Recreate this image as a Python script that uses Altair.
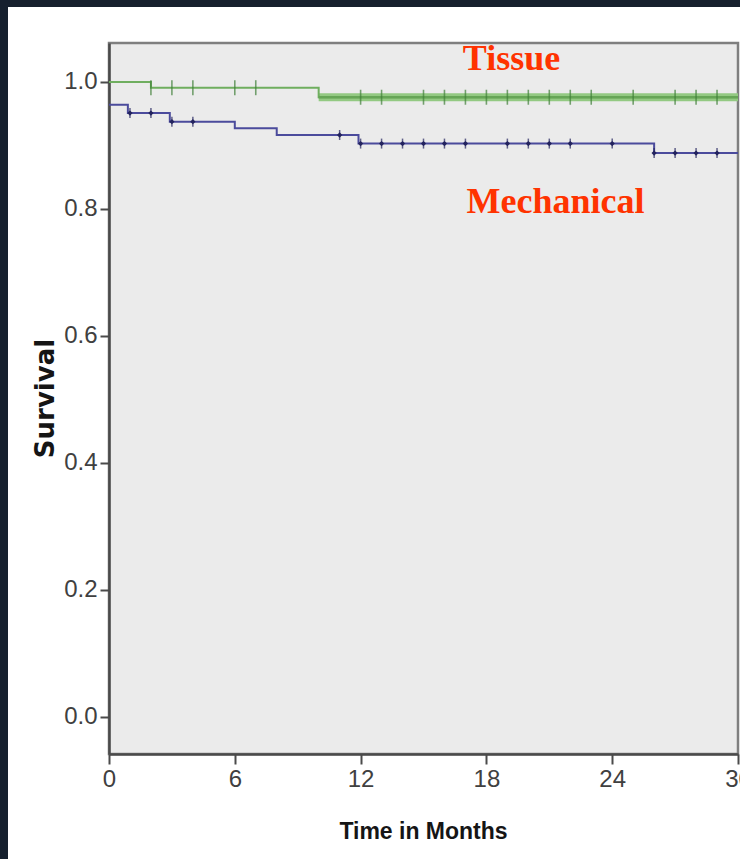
import altair as alt
import pandas as pd

# ---- data ----
tissue_time = [0, 2, 10, 30]
tissue_surv = [1.0, 0.991, 0.976, 0.976]
tissue_censor = [2, 3, 4, 6, 7, 12, 13, 15, 16, 17, 18, 19, 20, 21, 22, 23, 25, 27, 28, 29]

mech_time = [0, 0.9, 2.9, 6, 8, 11.9, 26, 30]
mech_surv = [0.964, 0.951, 0.9375, 0.927, 0.9165, 0.903, 0.888, 0.888]
mech_censor = [1, 2, 3, 4, 11, 12, 13, 14, 15, 16, 17, 19, 20, 21, 22, 24, 26, 27, 28, 29]

labels = ["Tissue", "Mechanical"]
label_time = [19.2, 21.3]
label_surv = [1.019, 0.794]

x_ticks = [0, 6, 12, 18, 24, 30]
y_ticks = [0.0, 0.2, 0.4, 0.6, 0.8, 1.0]


def surv_at(times, survs, t):
    v = survs[0]
    for tt, s in zip(times, survs):
        if tt <= t:
            v = s
    return v


tissue_df = pd.DataFrame({"t": tissue_time, "s": tissue_surv})
tissue_late = tissue_df[tissue_df["t"] >= 10]
mech_df = pd.DataFrame({"t": mech_time, "s": mech_surv})
tissue_c = pd.DataFrame({"t": tissue_censor,
                         "s": [surv_at(tissue_time, tissue_surv, t) for t in tissue_censor]})
mech_c = pd.DataFrame({"t": mech_censor,
                       "s": [surv_at(mech_time, mech_surv, t) for t in mech_censor]})
lab_df = pd.DataFrame({"label": labels, "t": label_time, "s": label_surv})

W, H = 629, 711
SANS = "Liberation Sans, Arial, sans-serif"

xs = alt.Scale(domain=[0, 30], nice=False, zero=False)
ys = alt.Scale(domain=[-0.0583, 1.0614], nice=False, zero=False)

xenc = alt.X("t:Q", scale=xs, axis=alt.Axis(
    values=x_ticks, format="d", title="Time in Months", labelFlush=False,
    tickSize=10, labelPadding=3, labelFont=SANS, labelFontSize=24,
    labelColor="#404040", titleFont=SANS, titleFontSize=23, titleFontWeight="bold",
    titleColor="#151515", titleX=314, titleY=84, titleBaseline="alphabetic",
    titleAlign="center"))
yenc = alt.Y("s:Q", scale=ys, axis=alt.Axis(
    values=y_ticks, format=".1f", title="Survival", tickSize=9, labelPadding=3,
    labelFont=SANS, labelFontSize=24, labelColor="#404040",
    titleFont="DejaVu Sans", titleFontSize=26, titleFontWeight="bold",
    titleColor="#151515", titleAngle=270, titleX=-56, titleY=355,
    titleAlign="center", titleBaseline="alphabetic"))

one = alt.Data(values=[{}])

border_left = alt.Chart(one).mark_rect(color="#16202e").encode(
    x=alt.value(-109), x2=alt.value(-101), y=alt.value(-43), y2=alt.value(H + 105))
border_top = alt.Chart(one).mark_rect(color="#16202e").encode(
    x=alt.value(-109), x2=alt.value(W + 2), y=alt.value(-43), y2=alt.value(-36))

tissue_line = alt.Chart(tissue_df).mark_line(
    interpolate="step-after", color="#6fae5f", strokeWidth=2).encode(x=xenc, y=yenc)
tissue_band = alt.Chart(tissue_late).mark_line(
    interpolate="step-after", color="#93c982", strokeWidth=8).encode(x=xenc, y=yenc)
tissue_core = alt.Chart(tissue_late).mark_line(
    interpolate="step-after", color="#66a556", strokeWidth=2.5).encode(x=xenc, y=yenc)
tissue_ticks = alt.Chart(tissue_c).mark_tick(
    orient="vertical", color="#3f7f38", size=15, thickness=1.6).encode(x=xenc, y=yenc)

mech_line = alt.Chart(mech_df).mark_line(
    interpolate="step-after", color="#4b4b9c", strokeWidth=2).encode(x=xenc, y=yenc)
mech_ticks = alt.Chart(mech_c).mark_tick(
    orient="vertical", color="#23235e", size=10, thickness=1.5).encode(x=xenc, y=yenc)
mech_dots = alt.Chart(mech_c).mark_point(
    shape="diamond", filled=True, color="#23235e", size=28, opacity=1).encode(x=xenc, y=yenc)

text = alt.Chart(lab_df).mark_text(
    font="Liberation Serif", fontSize=36, fontWeight="bold", color="#ff3300",
    align="center", baseline="alphabetic").encode(x=xenc, y=yenc, text="label:N")

chart = alt.layer(
    tissue_band, tissue_line, tissue_core, tissue_ticks,
    mech_line, mech_ticks, mech_dots, text, border_left, border_top
).properties(
    width=W, height=H,
    padding={"left": 109, "top": 43, "right": 2, "bottom": 105},
    autosize=alt.AutoSizeParams(type="none"),
).configure(
    background="#ffffff"
).configure_view(
    fill="#ebebeb", stroke="#7f7f7f", strokeWidth=2.5
).configure_axis(
    grid=False, domainColor="#4a4a4a", domainWidth=2.5,
    tickColor="#4a4a4a", tickWidth=2
)

chart.save("out.html", embed_options={"renderer": "svg", "actions": False})
